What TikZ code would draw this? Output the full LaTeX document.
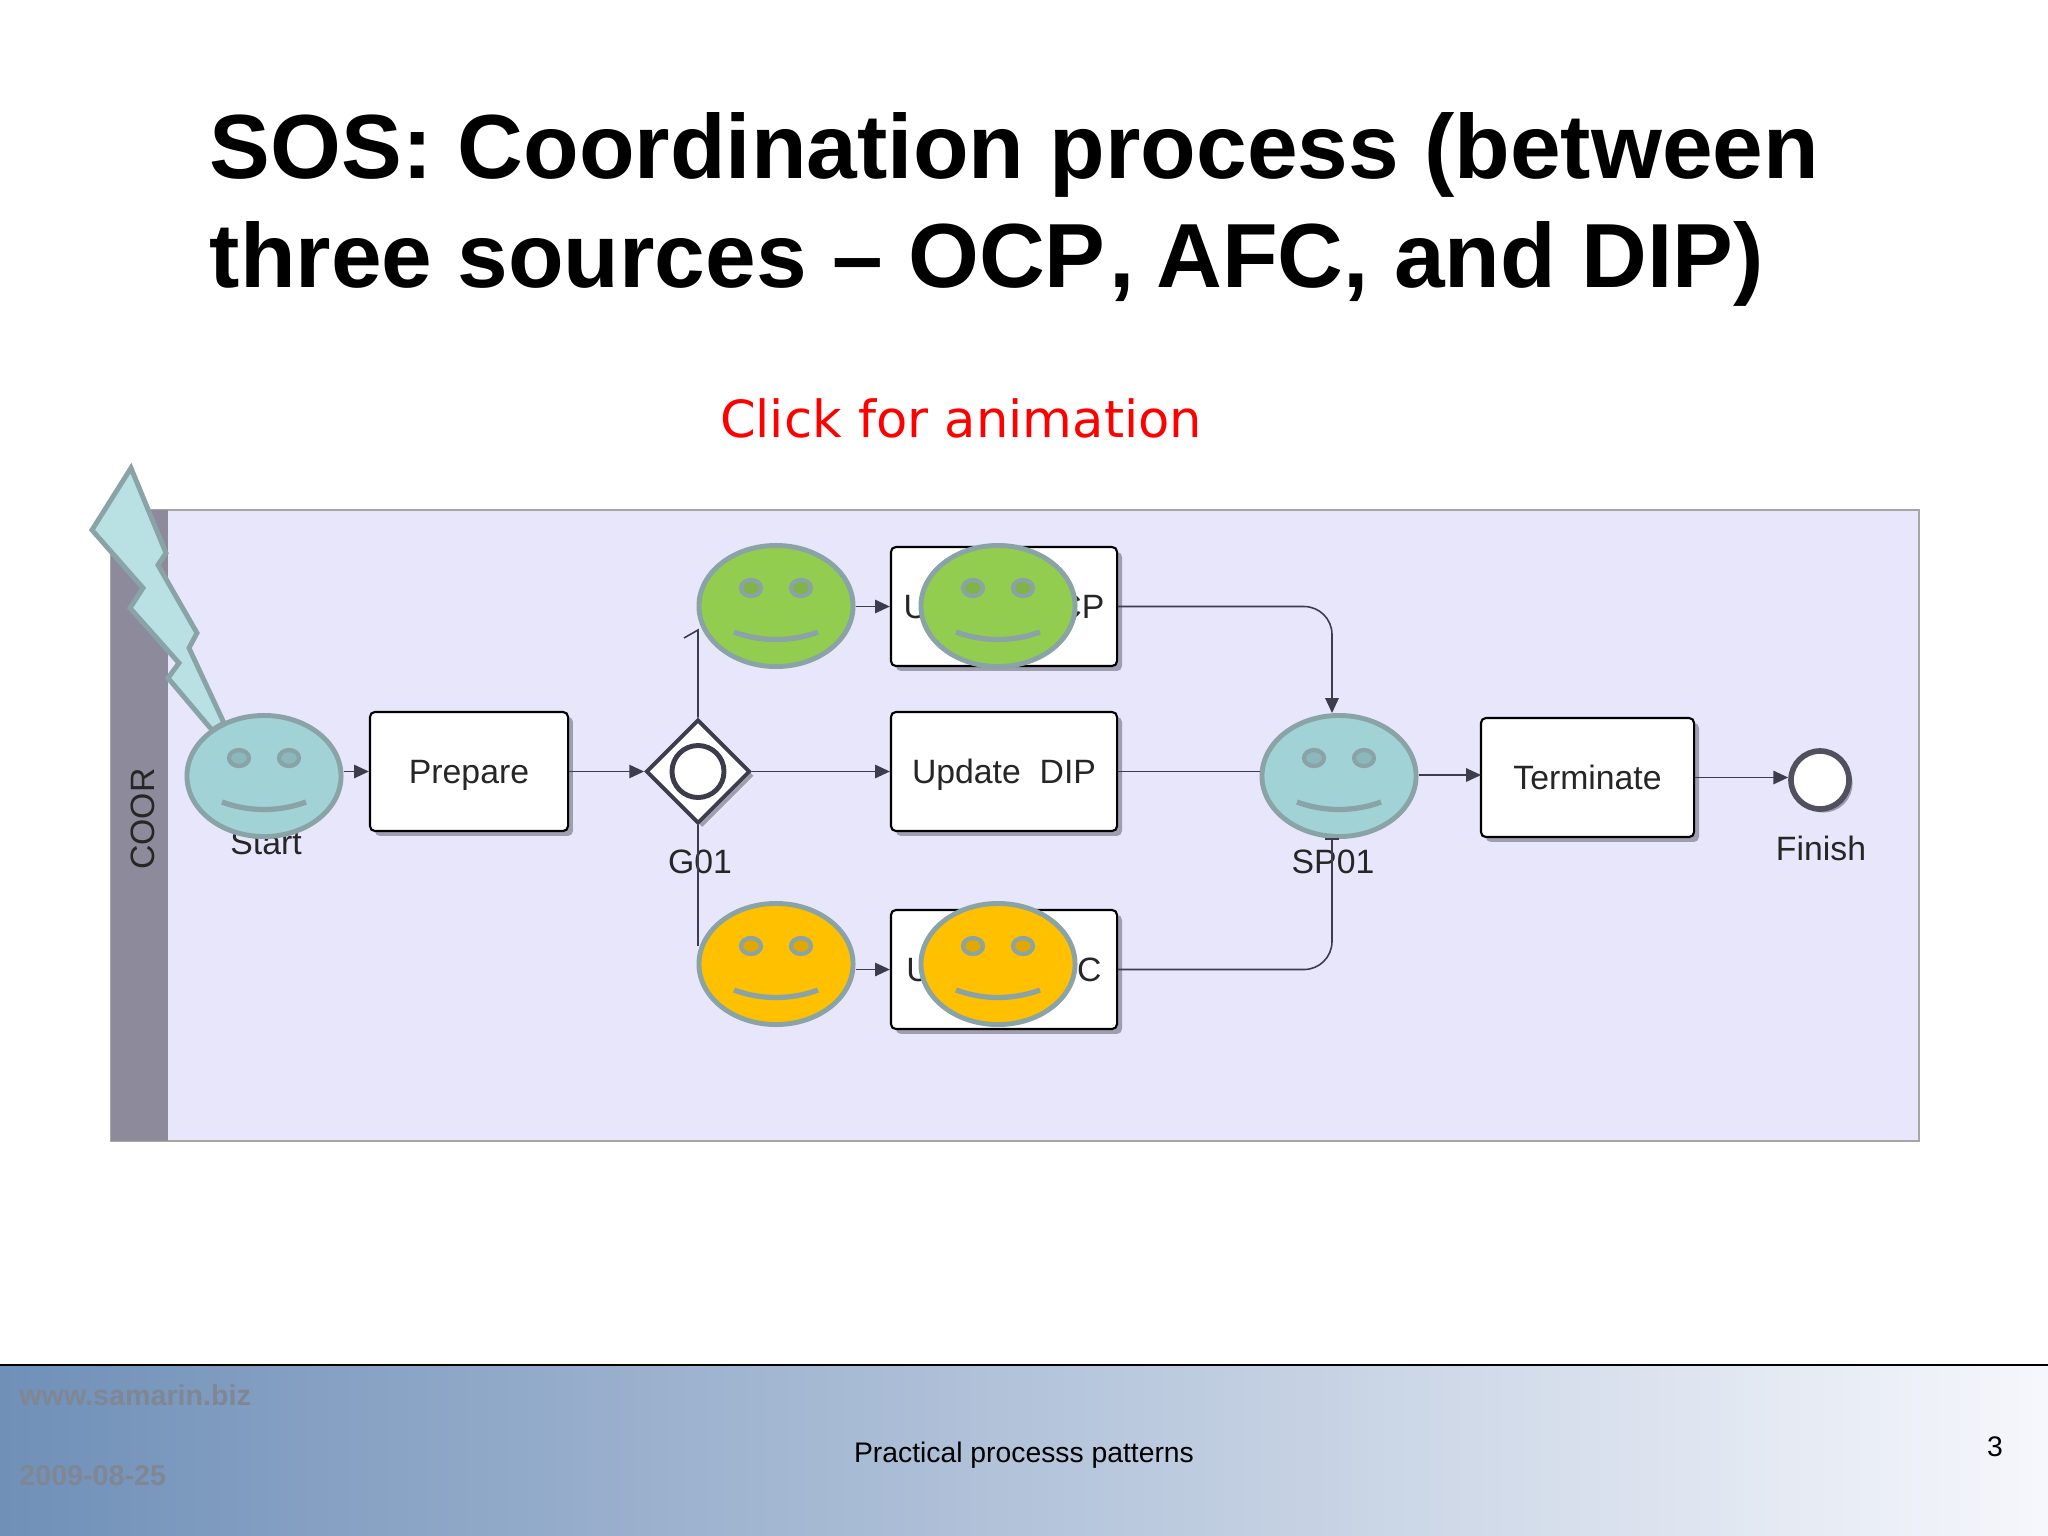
\documentclass[tikz,border=0pt]{standalone}
\usepackage{xcolor}
\usepackage{fontspec}
\usepackage{tikz}
\usetikzlibrary{shapes.geometric,shadows,arrows.meta}
\setmainfont{Liberation Sans}
\newfontfamily\clickfont{DejaVu Sans}

\definecolor{poolfill}{HTML}{E7E6FB}
\definecolor{lanefill}{HTML}{8C8A9B}
\definecolor{faceline}{HTML}{89A3A6}
\definecolor{faceteal}{HTML}{A0D2D6}
\definecolor{facegreen}{HTML}{92CD50}
\definecolor{faceorange}{HTML}{FFC000}
\definecolor{boltfill}{HTML}{B9E0E2}
\definecolor{flowline}{HTML}{3C3C4C}
\definecolor{shadowgray}{HTML}{9E9EAE}
\definecolor{footleft}{HTML}{7090B8}
\definecolor{footright}{HTML}{F6F7FC}
\definecolor{footgray}{HTML}{7F8795}

\tikzset{
    flow/.style={draw=flowline, line width=0.45pt, -{Triangle[length=4.2pt,width=3.8pt]}},
    plainflow/.style={draw=flowline, line width=0.45pt},
    task/.style={draw=black, fill=white, line width=0.6pt, rounded corners=0.05cm,
        inner sep=0pt, font=\fontsize{9.6}{11}\selectfont, text=black!85, text depth=0pt, text height=6.9pt,
        drop shadow={shadow xshift=1.4pt, shadow yshift=-1.4pt, fill=shadowgray, opacity=1}},
    smiley/.style={ellipse, draw=faceline, line width=1.4pt, inner sep=0pt,
        minimum width=1.54cm, minimum height=1.21cm},
    caption/.style={font=\fontsize{9.6}{11}\selectfont, text=black!85},
    face/.pic={
        \draw[faceline, line width=1.2pt, fill=black, fill opacity=0.12] (-25,-18) ellipse [x radius=10, y radius=8];
        \draw[faceline, line width=1.2pt, fill=black, fill opacity=0.12] (25,-18) ellipse [x radius=10, y radius=8];
        \draw[faceline, line width=1.5pt] (-42,26) .. controls (-15,36) and (15,36) .. (42,26);
    }
}

\begin{document}
\begin{tikzpicture}[x=0.01cm, y=-0.01cm]
            \useasboundingbox (0,0) rectangle (2048,1536);

            % Footer
            \shade[left color=footleft, right color=footright] (0,1365) rectangle (2048,1536);
            \draw[black, line width=0.8pt] (0,1365) -- (2048,1365);
            \node[anchor=west, text=footgray, font=\fontsize{8.15}{10}\selectfont\bfseries] (site) at (7,1395) {www.samarin.biz};
            \node[anchor=west, text=footgray, font=\fontsize{8.15}{10}\selectfont\bfseries] (date) at (7,1476) {2009-08-25};
            \node[font=\fontsize{8.05}{10}\selectfont] (foot) at (1024,1455) {Practical processs patterns};
            \node[font=\fontsize{8.05}{10}\selectfont] (page) at (1995,1447) {3};

            % Title
            \node[anchor=west, align=left, inner sep=0pt, font=\fontsize{25.9}{30.8}\selectfont\bfseries] (title) at (209,209.5)
                {SOS: Coordination process (between\\three sources -- OCP\kern1.15pt, \kern-1.1pt AFC, and DIP)};
            \node[text=red, font=\fontsize{14.55}{18}\selectfont\clickfont] (click) at (961,418.5) {Click for animation};

            % Pool and lane
            \draw[gray!70, line width=0.5pt, fill=poolfill] (111,510) rectangle (1919,1141);
            \fill[lanefill] (111,510) rectangle (168,1141);
            \node[rotate=90, caption] (lane) at (143,819) {COOR};

            % Bolt
            \draw[faceline, line width=1.4pt, fill=boltfill, line join=miter]
                (131,468) -- (166,553) -- (158,565) -- (197,633) -- (189,648) -- (224,723)
                -- (212,730) -- (168,678) -- (179,663) -- (130,608) -- (143,588) -- (92,530) -- cycle;

            % Tasks
            \node[task, minimum width=1.98cm, minimum height=1.19cm] (prepare) at (469,771.5) {Prepare};
            \node[task, minimum width=2.26cm, minimum height=1.19cm] (updateocp) at (1004,606.5) {Update\ \ OCP};
            \node[task, minimum width=2.26cm, minimum height=1.19cm] (updatedip) at (1004,771.5) {Update\ \ DIP};
            \node[task, minimum width=2.26cm, minimum height=1.19cm] (updateafc) at (1004,969.5) {Update\ \ AFC};
            \node[task, minimum width=2.13cm, minimum height=1.19cm] (terminate) at (1587.5,777.5) {Terminate};

            % Gateway and end event
            \node[diamond, draw=flowline, fill=white, line width=1.1pt, inner sep=0pt, minimum width=1.04cm, minimum height=1.04cm,
                drop shadow={shadow xshift=1.2pt, shadow yshift=-1.2pt, fill=shadowgray, opacity=1}] (gateway) at (698,771.5) {};
            \node[circle, draw=flowline, line width=1.4pt, inner sep=0pt, minimum size=0.52cm] (gatering) at (698,771.5) {};
            \node[circle, draw=flowline!90, fill=white, line width=1.6pt, inner sep=0pt, minimum size=0.58cm,
                drop shadow={shadow xshift=1pt, shadow yshift=-1pt, fill=shadowgray, opacity=1}] (finish) at (1820,780) {};

            % Labels
            \node[caption] (startlabel) at (266,843) {Start};
            \node[caption] (gatelabel) at (700,862) {G01};
            \node[caption] (splabel) at (1333,862) {SP01};
            \node[caption] (finishlabel) at (1821,848) {Finish};

            % Faces
            \node[smiley, fill=faceteal] (start) at (264,776) {};
            \pic at (start) {face};
            \node[smiley, fill=facegreen] (greenleft) at (776,606) {};
            \pic at (greenleft) {face};
            \node[smiley, fill=facegreen] (greenright) at (998,606) {};
            \pic at (greenright) {face};
            \node[smiley, fill=faceorange] (orangeleft) at (776,964) {};
            \pic at (orangeleft) {face};
            \node[smiley, fill=faceorange] (orangeright) at (998,964) {};
            \pic at (orangeright) {face};
            \node[smiley, fill=faceteal] (split) at (1339,776) {};
            \pic at (split) {face};

            % Free ends
            \coordinate (gatetop) at (698,630);
            \coordinate (gatetick) at (684,638);
            \coordinate (gatebottom) at (698,946);
            \coordinate (splitin) at (1332,713);
            \coordinate (splitout) at (1332,838);
            \coordinate (splitnext) at (1481,775);

            % Flows
            \draw[flow] (start.east |- prepare.west) -- (prepare.west);
            \draw[flow] (prepare.east) -- (gateway.west);
            \draw[flow] (gateway.east) -- (updatedip.west);
            \draw[plainflow] (gateway.north) -- (gatetop) -- (gatetick);
            \draw[plainflow] (gateway.south) -- (gatebottom);
            \draw[flow] (greenleft.east |- updateocp.west) -- (updateocp.west);
            \draw[flow] (orangeleft.east |- updateafc.west) -- (updateafc.west);
            \draw[plainflow] (updatedip.east) -- (split.west |- updatedip.east);
            \draw[flow, rounded corners=0.28cm] (updateocp.east) -| (splitin);
            \draw[plainflow, -{Bar[width=4pt]}, rounded corners=0.28cm] (updateafc.east) -| (splitout);
            \draw[flow] (split.east |- splitnext) -- (splitnext);
            \draw[flow] (terminate.east) -- (finish.west |- terminate.east);

\end{tikzpicture}
\end{document}
